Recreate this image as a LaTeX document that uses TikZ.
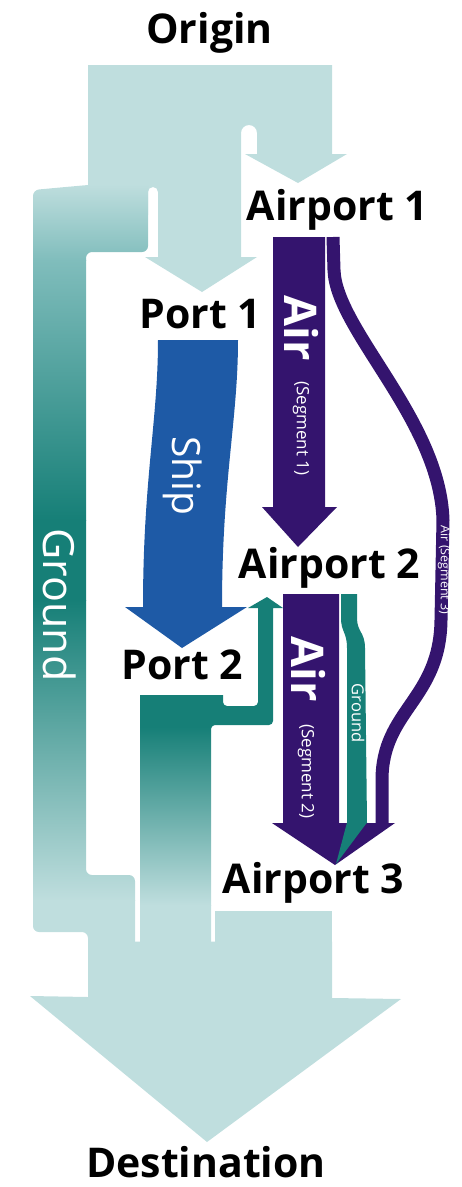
\documentclass[tikz,border=0pt]{standalone}
\usepackage{fontspec}
\setmainfont{Open Sans}
\definecolor{lightc}{RGB}{191,222,222}
\definecolor{tealc}{RGB}{22,127,119}
\definecolor{gmid}{RGB}{128,189,188}
\definecolor{purp}{RGB}{52,20,110}
\definecolor{shipc}{RGB}{30,90,166}
\begin{document}
\begin{tikzpicture}[x=1pt,y=-1pt,
  lbl/.style={font=\fontsize{41}{45}\selectfont\bfseries, anchor=base, inner sep=0pt, text=black},
  vtext/.style={rotate=-90, text=white, inner sep=0pt, anchor=center},
  bigv/.style={vtext, font=\fontsize{45}{45}\selectfont\bfseries},
  smallv/.style={vtext, font=\fontsize{17}{17}\selectfont}]
\useasboundingbox (0,0) rectangle (462,1187);

% top light block with two branches
\fill[lightc] (88,65) -- (332,65) -- (332,154) -- (347,154) -- (298,183) -- (245,154) -- (257,154) -- (257,140) [rounded corners=8pt] -- (257,125) -- (241,125) -- (241,140) [sharp corners] -- (241,257) -- (257,257) -- (202,292) -- (145,257) -- (158,257) -- (158,210) [rounded corners=5pt] -- (158,187) -- (148,187) -- (148,200) [sharp corners] -- (148,215) -- (120,215) -- (120,185) -- (88,185) -- cycle;

% ground flow
\begin{scope}
\clip (88,185) -- (148,185) -- (148,200) [rounded corners=6pt] -- (148,252) -- (86,252) -- (86,875) -- (135,875) -- (135,900) [sharp corners] -- (135,942) -- (88,942) -- (88,938) [rounded corners=6pt] -- (88,932) -- (33,932) -- (33,190) -- (60,187.5) [sharp corners] -- (88,185) -- cycle;
\shade[top color=lightc, bottom color=gmid] (20,184) rectangle (160,260.5);
\shade[top color=gmid, bottom color=tealc] (20,260) rectangle (160,520.5);
\fill[tealc] (20,520) rectangle (160,600.5);
\shade[top color=tealc, bottom color=lightc] (20,600) rectangle (160,900.5);
\fill[lightc] (20,900) rectangle (160,943);
\end{scope}

% port 2 onward flow (ground)
\begin{scope}
\clip (140,695) -- (223,695) -- (223,700) [rounded corners=4pt] -- (223,706) -- (258,706) -- (258,650) [sharp corners] -- (258,608) -- (248,608) -- (267,597) -- (283,608) -- (273,608) -- (273,650) [rounded corners=4pt] -- (273,725) -- (211,725) -- (211,800) [sharp corners] -- (211,942) -- (140,942) -- cycle;
\fill[tealc] (130,590) rectangle (290,727);
\shade[top color=tealc, bottom color=lightc] (130,726.5) rectangle (290,905);
\fill[lightc] (130,904.5) rectangle (290,943);
\end{scope}

% bottom block to destination
\fill[lightc] (215,911) rectangle (332,943);
\fill[lightc] (88,941.5) -- (332,941.5) -- (332,998) -- (401,999) -- (207,1142) -- (30,996) -- (88,997) -- cycle;

% ship
\fill[shipc] (158,340) -- (238,340) .. controls (238,420) and (222,480) .. (222,607) -- (247,607) -- (182,648) -- (125,607) -- (143,607) .. controls (143,480) and (158,420) .. (158,340) -- cycle;

% air segment 1
\fill[purp] (273,237) -- (325,237) -- (325,507) -- (337,507) -- (298,547) -- (262,507) -- (273,507) -- cycle;

% air segment 2
\fill[purp] (283,594) -- (339,594) -- (339,823) -- (395,823) -- (335,865) -- (272,823) -- (283,823) -- cycle;

% ground between airport 2 and 3
\fill[tealc] (341,594) -- (357,594) -- (357,618) .. controls (357,632) and (365,632) .. (365,648) -- (367,823) -- (347,823) -- (347,648) .. controls (347,632) and (341,632) .. (341,618) -- cycle;
\fill[tealc] (347,822.5) -- (367,822.5) -- (336,864) -- cycle;

% air segment 3
\draw[purp, line width=13pt] (333,237) -- (334,270) .. controls (336,330) and (440,420) .. (443,520) -- (441,620) .. controls (440,700) and (382,710) .. (382,780) -- (382,823.5);

% labels
\node[lbl] (origin) at (209.5,43) {Origin};
\node[lbl] (ap1) at (337.5,220) {Airport 1};
\node[lbl] (port1) at (200.5,328) {Port 1};
\node[lbl] (ap2) at (329.5,578) {Airport 2};
\node[lbl] (port2) at (182.5,679) {Port 2};
\node[lbl] (ap3) at (313.5,893) {Airport 3};
\node[lbl] (dest) at (206,1177) {Destination};

\node[bigv] (air1) at (302,328.5) {Air};
\node[smallv] (seg1) at (301,428.5) {(Segment 1)};
\node[bigv] (air2) at (309,669.5) {Air};
\node[smallv] (seg2) at (306,771.5) {(Segment 2)};
\node[vtext, font=\fontsize{39}{39}\selectfont] (ship) at (183,476) {Ship};
\node[vtext, font=\fontsize{43}{43}\selectfont] (ground) at (60,605) {Ground};
\node[vtext, font=\fontsize{16.5}{16.5}\selectfont] (ground2) at (358,713) {Ground};
\node[vtext, font=\fontsize{12.5}{12.5}\selectfont] (seg3) at (444,570) {Air (Segment 3)};
\end{tikzpicture}
\end{document}
